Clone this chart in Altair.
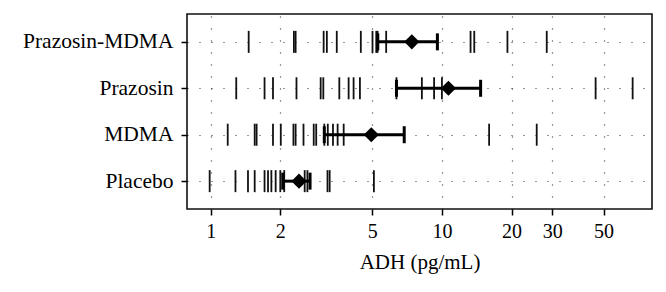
import altair as alt
import pandas as pd

groups = ["Prazosin-MDMA", "Prazosin", "MDMA", "Placebo"]

prazosin_mdma = [1.46, 2.29, 2.33, 3.08, 3.18, 3.51, 4.46, 5.01, 5.2, 5.27, 5.74, 13.3, 13.8, 19.2, 28.4]
prazosin = [1.29, 1.71, 1.86, 2.35, 2.99, 3.07, 3.60, 3.95, 4.15, 4.42, 6.36, 8.19, 9.25, 10.0, 46.2, 66.8]
mdma = [1.185, 1.55, 1.58, 1.86, 2.01, 2.28, 2.33, 2.52, 2.79, 2.86, 3.1, 3.21, 3.38, 3.54, 3.76, 16.0, 25.7]
placebo = [0.99, 1.28, 1.45, 1.55, 1.71, 1.77, 1.83, 1.91, 2.0, 2.08, 2.55, 2.62, 3.2, 3.27, 5.08]

means = [7.41, 10.67, 4.95, 2.41]
ci_low = [5.28, 6.36, 3.1, 2.05]
ci_high = [9.56, 14.7, 6.87, 2.69]

x_ticks = [1, 2, 5, 10, 20, 30, 50]

rows = []
for g, vals in zip(groups, [prazosin_mdma, prazosin, mdma, placebo]):
    for v in vals:
        rows.append({"group": g, "adh": v})
points = pd.DataFrame(rows)
summary = pd.DataFrame({"group": groups, "mean": means, "lo": ci_low, "hi": ci_high})

FONT = "Liberation Serif"
xscale = alt.Scale(type="log", domain=[0.79, 81], nice=False)
yscale = alt.Scale(type="point", domain=groups, padding=0.6)

x_axis = alt.Axis(values=x_ticks, format="d", title="ADH (pg/mL)", grid=True,
                  gridDash=[1, 11], gridColor="#333", gridWidth=1.2,
                  labelFontSize=20, titleFontSize=21, labelPadding=6,
                  titlePadding=10, titleFontWeight="normal")
y_axis = alt.Axis(title=None, grid=True, gridDash=[1, 11], gridColor="#333",
                  gridWidth=1.2, labelFontSize=21.5, labelPadding=8)


def xenc(field):
    return alt.X(field, type="quantitative", scale=xscale, axis=x_axis)


yenc = alt.Y("group:N", scale=yscale, sort=groups, axis=y_axis)

data_ticks = alt.Chart(points).mark_tick(color="#111", opacity=1, thickness=1.8, size=22).encode(
    x=xenc("adh"), y=yenc,
)

rule = alt.Chart(summary).mark_rule(color="black", strokeWidth=3).encode(
    x=xenc("lo"), x2="hi:Q", y=yenc,
)

cap_lo = alt.Chart(summary).mark_tick(color="black", opacity=1, thickness=3, size=17).encode(
    x=xenc("lo"), y=yenc,
)
cap_hi = alt.Chart(summary).mark_tick(color="black", opacity=1, thickness=3, size=17).encode(
    x=xenc("hi"), y=yenc,
)

diamond = alt.Chart(summary).mark_point(shape="diamond", filled=True, size=230,
                                        color="black", opacity=1).encode(
    x=xenc("mean"), y=yenc,
)

chart = alt.layer(data_ticks, rule, cap_lo, cap_hi, diamond).properties(
    width=465, height=195,
    autosize=alt.AutoSizeParams(type="none"),
    padding={"left": 187, "top": 14, "right": 14, "bottom": 83},
    background="white",
).configure_view(
    stroke="#111", strokeWidth=1.6
).configure_axis(
    labelFont=FONT, titleFont=FONT, labelColor="black", titleColor="black",
    domain=False, tickColor="black", tickWidth=1.5, tickSize=6,
)

chart.save("out.html", embed_options={"renderer": "svg", "actions": False})
